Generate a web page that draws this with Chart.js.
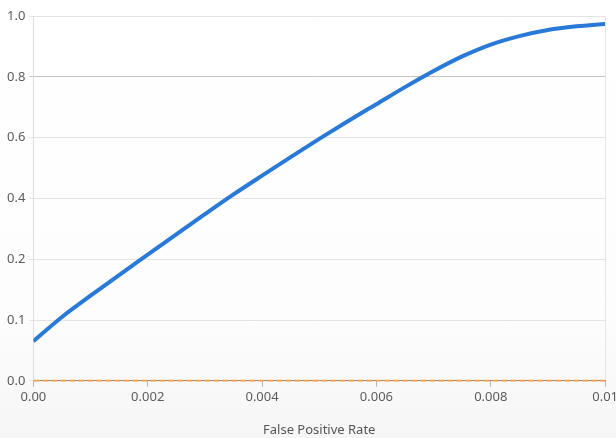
<!DOCTYPE html>
<html>
<head>
<meta charset="utf-8">
<script src="https://cdn.jsdelivr.net/npm/chart.js@4/dist/chart.umd.min.js"></script>
<style>
  html, body { margin: 0; padding: 0; overflow: hidden; }
  body { width: 616px; height: 438px; background: linear-gradient(#ffffff, #fdfdfd 70%, #f6f6f6); }
  #wrap { position: relative; width: 616px; height: 438px; overflow: hidden; }
</style>
</head>
<body>
<div id="wrap"><canvas id="roc" width="621" height="438"></canvas></div>
<script>
// ROC-кривая в зоне малых FPR
const FPR = [0, 0.0005, 0.001, 0.0015, 0.002, 0.0025, 0.003, 0.0035, 0.004, 0.0045, 0.005,
             0.0055, 0.006, 0.0065, 0.007, 0.0075, 0.008, 0.0085, 0.009, 0.0095, 0.01];
const TPR = [0.065, 0.105, 0.140, 0.174, 0.215, 0.282, 0.348, 0.413, 0.475, 0.536, 0.596,
             0.654, 0.710, 0.766, 0.819, 0.867, 0.906, 0.934, 0.954, 0.966, 0.974];
const BASE_X = [0, 0.01];
const BASE_Y = [0, 0];

const X_TICKS = [0, 0.002, 0.004, 0.006, 0.008, 0.01];
const X_TICK_LABELS = ["0.00", "0.002", "0.004", "0.006", "0.008", "0.01"];
const Y_TICKS = [0, 0.1, 0.2, 0.4, 0.6, 0.8, 1.0];
const Y_TICK_LABELS = ["0.0", "0.1", "0.2", "0.4", "0.6", "0.8", "1.0"];

/** значение -> позиция в "полосах" между соседними делениями */
function toBand(v) {
    const n = Y_TICKS.length - 1;
    if (v <= Y_TICKS[0]) return 0;
    for (let i = 0; i < n; i++) {
        if (v <= Y_TICKS[i + 1]) return i + (v - Y_TICKS[i]) / (Y_TICKS[i + 1] - Y_TICKS[i]);
    }
    return n;
}

function fromBand(b) {
    const n = Y_TICKS.length - 1;
    const i = Math.max(0, Math.min(n - 1, Math.floor(b)));
    return Y_TICKS[i] + (b - i) * (Y_TICKS[i + 1] - Y_TICKS[i]);
}

/** Ось Y с равным шагом между делениями (кусочно-линейная) */
class BandedScale extends Chart.LinearScale {
    determineDataLimits() {
        this.min = Y_TICKS[0];
        this.max = Y_TICKS[Y_TICKS.length - 1];
    }
    buildTicks() {
        return Y_TICKS.map(v => ({ value: v }));
    }
    getPixelForValue(value) {
        return this.getPixelForDecimal(toBand(value) / (Y_TICKS.length - 1));
    }
    getValueForPixel(pixel) {
        return fromBand(this.getDecimalForPixel(pixel) * (Y_TICKS.length - 1));
    }
}
BandedScale.id = "banded";
BandedScale.defaults = Chart.LinearScale.defaults;
Chart.register(BandedScale);

const font = { family: "'Noto Sans', 'Open Sans', sans-serif", size: 13 };

new Chart(document.getElementById("roc"), {
    type: "line",
    data: {
        datasets: [
            {
                label: "ROC",
                data: FPR.map((x, i) => ({ x, y: TPR[i] })),
                borderColor: "#2979d8",
                borderWidth: 4,
                pointRadius: 0,
                cubicInterpolationMode: "monotone",
                fill: false
            },
            {
                label: "baseline",
                data: BASE_X.map((x, i) => ({ x, y: BASE_Y[i] })),
                borderColor: "#f5a04a",
                borderWidth: 2,
                borderDash: [6, 3],
                pointRadius: 0,
                fill: false
            }
        ]
    },
    options: {
        responsive: false,
        animation: false,
        layout: { padding: { top: 16, left: 3, right: 0, bottom: 0 } },
        plugins: {
            legend: { display: false },
            tooltip: { enabled: false }
        },
        scales: {
            x: {
                type: "linear",
                min: 0,
                max: 0.01,
                afterBuildTicks: s => { s.ticks = X_TICKS.map(v => ({ value: v })); },
                ticks: {
                    color: "#5c5c5c",
                    font,
                    padding: 3,
                    maxRotation: 0,
                    autoSkip: false,
                    callback: (v, i) => X_TICK_LABELS[i]
                },
                grid: {
                    color: c => (c.index === X_TICKS.length - 1 ? "#e6e6e6" : "rgba(0,0,0,0)"),
                    tickColor: "#b5b5b5",
                    tickLength: 6
                },
                border: { color: "#8a8a8a", width: 1 },
                title: {
                    display: true,
                    text: "False Positive Rate",
                    color: "#555",
                    font,
                    padding: { top: 14, bottom: 0 }
                }
            },
            y: {
                type: "banded",
                ticks: {
                    color: "#5c5c5c",
                    font,
                    padding: 4,
                    autoSkip: false,
                    callback: (v, i) => Y_TICK_LABELS[i]
                },
                grid: {
                    color: c => (c.tick && c.tick.value === 0.8 ? "#c4c4c4" : "#e4e4e4"),
                    tickLength: 4
                },
                border: { color: "#dedede", width: 1 }
            }
        }
    }
});
</script>
</body>
</html>
